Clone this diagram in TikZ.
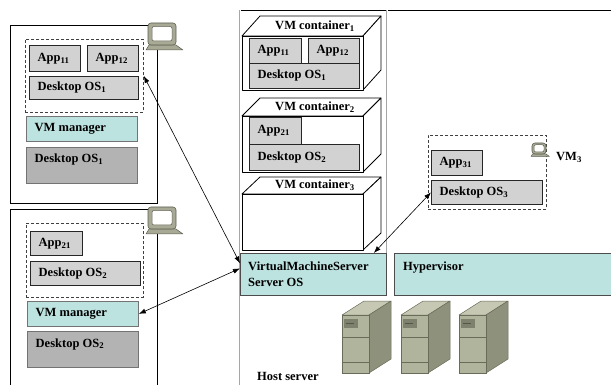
\documentclass[tikz,border=0pt]{standalone}
\usepackage{fontspec}
\setmainfont{Liberation Serif}
\usetikzlibrary{arrows.meta}

\definecolor{appgray}{HTML}{D2D2D2}
\definecolor{hostgray}{HTML}{B3B3B3}
\definecolor{vmteal}{HTML}{BDE3E1}
\definecolor{iconbody}{HTML}{A8AA96}
\definecolor{iconedge}{HTML}{5C5E4E}
\definecolor{towerfront}{HTML}{B1B49D}
\definecolor{towerside}{HTML}{8E917B}
\definecolor{towertop}{HTML}{C6C8B4}
\definecolor{toweredge}{HTML}{6A6C5A}
\definecolor{towerbadge}{HTML}{7E816D}

\tikzset{
  lbl/.style={font=\bfseries\fontsize{12.5}{15}\selectfont, inner sep=0pt,
              text height=8.5pt, text depth=2.5pt},
  appbox/.style={draw=black!85, fill=appgray, line width=0.8pt, inner sep=0pt},
  hostbox/.style={draw=black!55, fill=hostgray, line width=0.8pt, inner sep=0pt},
  mgrbox/.style={draw=black!55, fill=vmteal, line width=0.8pt, inner sep=0pt},
  barbox/.style={draw=black!70, fill=vmteal, line width=0.8pt, inner sep=0pt},
  vmgroup/.style={draw=black!75, dash pattern=on 3pt off 2pt, line width=0.8pt, inner sep=0pt},
  clientframe/.style={draw=black, line width=0.8pt, inner sep=0pt},
  rail/.style={draw=gray!70, line width=0.6pt, double=white, double distance=0.9pt},
  link/.style={{Latex[length=7pt,width=5pt]}-{Latex[length=7pt,width=5pt]}, line width=0.6pt},
  cubeface/.style={draw=black, fill=white, line width=0.8pt, line join=round, inner sep=0pt},
  pics/termicon/.style={code={
    \draw[iconedge, fill=iconbody, line width=0.5pt, line join=round]
      (-2,27) -- (1,22) -- (28,22) -- (35,27) -- cycle;
    \draw[iconedge, fill=iconbody, line width=0.6pt, rounded corners=3pt]
      (0,0) rectangle (28,22);
    \draw[iconedge, fill=white, line width=0.5pt, rounded corners=2pt]
      (4,3.5) rectangle (24,18);
  }},
  pics/tower/.style={code={
    \draw[toweredge, fill=towertop, line width=0.5pt, line join=round]
      (0,0) -- (22,-14) -- (49,-14) -- (27,0) -- cycle;
    \draw[toweredge, fill=towerside, line width=0.5pt, line join=round]
      (27,0) -- (49,-14) -- (49,44) -- (27,58) -- cycle;
    \draw[toweredge, fill=towerfront, line width=0.5pt] (0,0) rectangle (27,58);
    \draw[toweredge, line width=0.8pt] (0,22) -- (27,22) (0,47) -- (27,47);
    \fill[towerbadge] (1.5,4) rectangle (16,13);
    \draw[toweredge!80!black, line width=0.8pt] (4,8.5) -- (12,8.5);
  }}
}

% box with its text set left, vertically centred
\newcommand\panel[7]{%
  \node[#2, anchor=north west, minimum width=#5pt, minimum height=#6pt] (#1) at (#3,#4) {};
  \node[lbl, anchor=west] (#1-t) at ([xshift=8.5pt]#1.west) {#7};}
% box with its text near the top
\newcommand\tpanel[7]{%
  \node[#2, anchor=north west, minimum width=#5pt, minimum height=#6pt] (#1) at (#3,#4) {};
  \node[lbl, anchor=west] (#1-t) at ([xshift=8.5pt,yshift=-13pt]#1.north west) {#7};}
% open 3D container: name, front x1, y1, x2, y2, depth dx, dy
\newcommand\vmcube[7]{%
  \draw[cubeface] (#2,#3) -- (#2+#6,#3-#7) -- (#4+#6,#3-#7) -- (#4,#3) -- cycle;
  \draw[cubeface] (#4,#3) -- (#4+#6,#3-#7) -- (#4+#6,#5-#7) -- (#4,#5) -- cycle;
  \node[cubeface, anchor=north west, minimum width=#4pt-#2pt, minimum height=#5pt-#3pt] (#1) at (#2,#3) {};}

\begin{document}
\begin{tikzpicture}[x=1pt, y=-1pt]
\useasboundingbox (0,0) rectangle (611,385);
\clip (0,0) rectangle (611,385);

% ---------- first desktop client ----------
\node[clientframe, anchor=north west, minimum width=147pt, minimum height=178pt] (client1) at (10,25) {};
\node[vmgroup, anchor=north west, minimum width=118pt, minimum height=73pt] (dash1) at (25,39) {};
\panel{app11}{appbox}{29}{45}{51}{26}{App\textsubscript{11}}
\panel{app12}{appbox}{87}{45}{51}{26}{App\textsubscript{12}}
\panel{dosA}{appbox}{29}{76}{109}{23}{Desktop OS\textsubscript{1}}
\panel{vmm1}{mgrbox}{26}{116}{111}{25}{VM manager}
\tpanel{hostA}{hostbox}{26}{147}{111}{36}{Desktop OS\textsubscript{1}}
\pic at (148,23) {termicon};

% ---------- second desktop client ----------
\node[clientframe, anchor=north west, minimum width=147pt, minimum height=190pt] (client2) at (10,209) {};
\node[vmgroup, anchor=north west, minimum width=117pt, minimum height=74pt] (dash2) at (26,223) {};
\panel{app21}{appbox}{30}{231}{52}{24}{App\textsubscript{21}}
\panel{dosB}{appbox}{30}{261}{110}{24}{Desktop OS\textsubscript{2}}
\panel{vmm2}{mgrbox}{27}{301}{111}{25}{VM manager}
\tpanel{hostB}{hostbox}{27}{331}{111}{36}{Desktop OS\textsubscript{2}}
\pic at (148,207) {termicon};

% ---------- host server ----------
\draw[black, line width=0.8pt] (240,10) -- (611,10);
\draw[rail] (240,10) -- (240,390);
\draw[rail] (387,10) -- (387,253);

% VM containers
\vmcube{cubeA}{242}{36}{363}{90}{18}{20}
\node[lbl] (cubeA-t) at (315,27) {VM container\textsubscript{1}};
\panel{capp11}{appbox}{249}{38}{52}{25}{App\textsubscript{11}}
\panel{capp12}{appbox}{308}{38}{51}{25}{App\textsubscript{12}}
\panel{cdosA}{appbox}{249}{63}{110}{25}{Desktop OS\textsubscript{1}}

\vmcube{cubeB}{242}{116}{363}{172}{18}{18}
\node[lbl] (cubeB-t) at (315,108) {VM container\textsubscript{2}};
\panel{capp21}{appbox}{249}{117}{52}{27}{App\textsubscript{21}}
\panel{cdosB}{appbox}{249}{144}{110}{26}{Desktop OS\textsubscript{2}}

\vmcube{cubeC}{242}{194}{363}{250}{18}{17}
\node[lbl] (cubeC-t) at (315,186) {VM container\textsubscript{3}};

% server software layers
\node[barbox, anchor=north west, minimum width=146pt, minimum height=42pt] (vms) at (240,253) {};
\node[lbl, anchor=west] (vms-a) at (248,267) {VirtualMachineServer};
\node[lbl, anchor=west] (vms-b) at (248,283) {Server OS};
\node[barbox, anchor=north west, minimum width=222pt, minimum height=42pt] (hyp) at (394,253) {};
\node[lbl, anchor=west] (hyp-t) at (403,267) {Hypervisor};

% server hardware
\pic at (342,315) {tower};
\pic at (401,315) {tower};
\pic at (459,315) {tower};
\node[lbl, anchor=west] (hostlbl) at (257,377.5) {Host server};

% ---------- third virtual machine ----------
\node[vmgroup, anchor=north west, minimum width=118pt, minimum height=74pt] (dash3) at (428,135) {};
\panel{app31}{appbox}{431}{150}{51}{25}{App\textsubscript{31}}
\panel{dosC}{appbox}{431}{180}{111}{24}{Desktop OS\textsubscript{3}}
\pic[scale=0.5] at (532,143) {termicon};
\node[lbl, anchor=west] (vm3) at (556,158) {VM\textsubscript{3}};

% ---------- connections ----------
\draw[link] (dash1.east) -- ([yshift=11pt]vms.west);
\draw[link] (vmm2.east) -- ([yshift=6pt]vms.west);
\draw[link] (dosC.west) -- ([xshift=-13pt]vms.north east);
\end{tikzpicture}
\end{document}
